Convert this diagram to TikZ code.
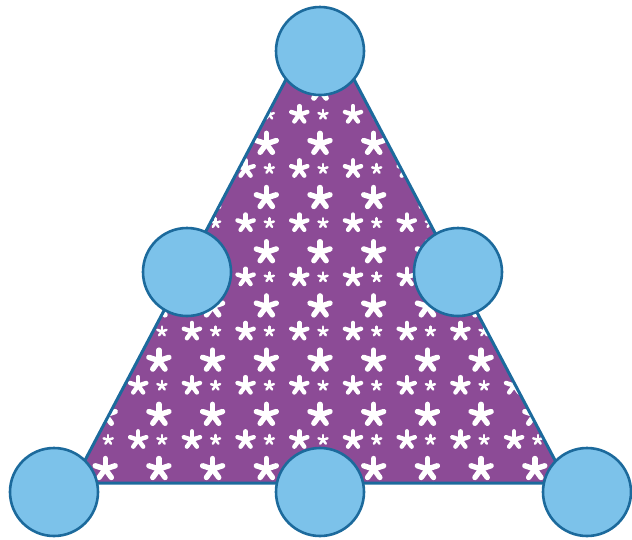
\documentclass[tikz,border=0pt]{standalone}
\begin{document}
\begin{tikzpicture}[x=1pt,y=-1pt,
  edge/.style={draw=strokeblue,line width=3pt,line join=round},
  ball/.style={circle,draw=strokeblue,line width=2.6pt,fill=ballblue,minimum size=88pt,inner sep=0pt},
  bigpetal/.style={white,line width=5.4pt,line cap=round},
  midpetal/.style={white,line width=4.4pt,line cap=round},
  smallpetal/.style={white,line width=2.5pt,line cap=round}]
\definecolor{strokeblue}{HTML}{1C6A9C}
\definecolor{ballblue}{HTML}{7CC2EA}
\definecolor{tripurple}{HTML}{8C4B96}
\useasboundingbox (0,0) rectangle (632,539);
\coordinate (apex) at (320,15);
\coordinate (bl) at (73,483);
\coordinate (br) at (567,483);
\fill[tripurple] (apex) -- (bl) -- (br) -- cycle;
\begin{scope}
  \clip (apex) -- (bl) -- (br) -- cycle;
  \foreach \i in {-6,...,6}{
    \foreach \j in {-3,...,6}{
      \pgfmathsetmacro{\ax}{320+53.7*\i}
      \pgfmathsetmacro{\ay}{198+54.2*\j}
      \pgfmathsetmacro{\bx}{\ax+33}
      \pgfmathsetmacro{\sx}{\ax+3}
      \pgfmathsetmacro{\by}{\ay+25}
      \foreach \a in {90,162,234,306,18}{
        \draw[bigpetal] (\ax,\ay) -- ++(\a:-10.5);
        \draw[midpetal] (\bx,\by) -- ++(\a:-8.5);
        \draw[smallpetal] (\sx,\by) -- ++(\a:-4.8);
      }
    }
  }
\end{scope}
\draw[edge] (apex) -- (bl) -- (br) -- cycle;
\node[ball] (top) at (320,51) {};
\node[ball] (ml) at (187,272) {};
\node[ball] (mr) at (458,272) {};
\node[ball] (bleft) at (54,492) {};
\node[ball] (bmid) at (320,492) {};
\node[ball] (bright) at (587,492) {};
\end{tikzpicture}
\end{document}
